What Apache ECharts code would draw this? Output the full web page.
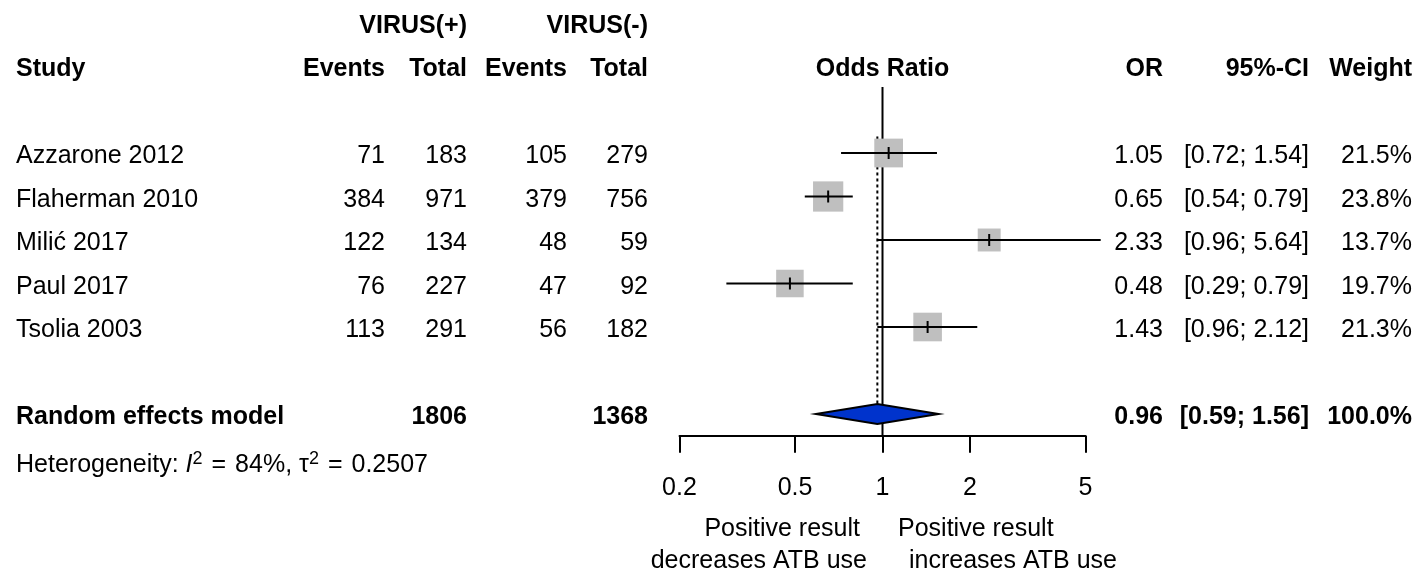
<!DOCTYPE html>
<html><head><meta charset="utf-8">
<script src="https://cdn.jsdelivr.net/npm/echarts@6/dist/echarts.min.js"></script>
<style>html,body{margin:0;padding:0;background:#fff}#c{width:1418px;height:572px}</style>
</head><body><div id="c"></div>
<script>
// ---------- data ----------
const studies   = ['Azzarone 2012', 'Flaherman 2010', 'Milić 2017', 'Paul 2017', 'Tsolia 2003'];
const eventsPos = [71, 384, 122, 76, 113];
const totalPos  = [183, 971, 134, 227, 291];
const eventsNeg = [105, 379, 48, 47, 56];
const totalNeg  = [279, 756, 59, 92, 182];
const orValues  = [1.05, 0.65, 2.33, 0.48, 1.43];
const ciLower   = [0.72, 0.54, 0.96, 0.29, 0.96];
const ciUpper   = [1.54, 0.79, 5.64, 0.79, 2.12];
const weights   = [21.5, 23.8, 13.7, 19.7, 21.3];
const pooledOR    = 0.96;
const pooledLower = 0.59;
const pooledUpper = 1.56;
const pooledWeight = 100.0;
const sumTotalPos = 1806;
const sumTotalNeg = 1368;
const tickValues = [0.2, 0.5, 1, 2, 5];
const tickLabels = ['0.2', '0.5', '1', '2', '5'];
const heterogeneityI2 = '84%';
const heterogeneityTau2 = '0.2507';

// ---------- layout ----------
const FONT = "'Liberation Sans', Arial, Helvetica, sans-serif";
const FS = 25;
const TXT_DY = 3.5;
const LW = 2;
const studyRows = studies.map((s, i) => i + 2);
const headerRow = 0, groupRow = -1, summaryRow = 8, hetRow = 9.1;
const COL = {study: 16, evPos: 385, totPos: 467, evNeg: 567, totNeg: 648, or: 1163, ci: 1309, w: 1412};

const textItems = [];
function addText(o) { textItems.push(o); }
// group header
addText({row: groupRow, x: COL.totPos, text: 'VIRUS(+)', align: 'right', bold: true});
addText({row: groupRow, x: COL.totNeg, text: 'VIRUS(-)', align: 'right', bold: true});
// column header
addText({row: headerRow, x: COL.study, text: 'Study', align: 'left', bold: true});
addText({row: headerRow, x: COL.evPos, text: 'Events', align: 'right', bold: true});
addText({row: headerRow, x: COL.totPos, text: 'Total', align: 'right', bold: true});
addText({row: headerRow, x: COL.evNeg, text: 'Events', align: 'right', bold: true});
addText({row: headerRow, x: COL.totNeg, text: 'Total', align: 'right', bold: true});
addText({row: headerRow, xData: 1, text: 'Odds Ratio', align: 'center', bold: true});
addText({row: headerRow, x: COL.or, text: 'OR', align: 'right', bold: true});
addText({row: headerRow, x: COL.ci, text: '95%-CI', align: 'right', bold: true});
addText({row: headerRow, x: COL.w, text: 'Weight', align: 'right', bold: true});
// studies
studies.forEach((s, i) => {
  const r = studyRows[i];
  addText({row: r, x: COL.study, text: s, align: 'left'});
  addText({row: r, x: COL.evPos, text: String(eventsPos[i]), align: 'right'});
  addText({row: r, x: COL.totPos, text: String(totalPos[i]), align: 'right'});
  addText({row: r, x: COL.evNeg, text: String(eventsNeg[i]), align: 'right'});
  addText({row: r, x: COL.totNeg, text: String(totalNeg[i]), align: 'right'});
  addText({row: r, x: COL.or, text: orValues[i].toFixed(2), align: 'right'});
  addText({row: r, x: COL.ci, text: '[' + ciLower[i].toFixed(2) + '; ' + ciUpper[i].toFixed(2) + ']', align: 'right'});
  addText({row: r, x: COL.w, text: weights[i].toFixed(1) + '%', align: 'right'});
});
// summary
addText({row: summaryRow, x: COL.study, text: 'Random effects model', align: 'left', bold: true});
addText({row: summaryRow, x: COL.totPos, text: String(sumTotalPos), align: 'right', bold: true});
addText({row: summaryRow, x: COL.totNeg, text: String(sumTotalNeg), align: 'right', bold: true});
addText({row: summaryRow, x: COL.or, text: pooledOR.toFixed(2), align: 'right', bold: true});
addText({row: summaryRow, x: COL.ci, text: '[' + pooledLower.toFixed(2) + '; ' + pooledUpper.toFixed(2) + ']', align: 'right', bold: true});
addText({row: summaryRow, x: COL.w, text: pooledWeight.toFixed(1) + '%', align: 'right', bold: true});
// heterogeneity
addText({row: hetRow, x: COL.study, align: 'left',
  text: '{t|Heterogeneity: }{i|I}{s|2}{e|=}{t|' + heterogeneityI2 + ', τ}{s|2}{e|=}{t|' + heterogeneityTau2 + '}',
  rich: {
    t: {font: FS + 'px ' + FONT, lineHeight: 30, fill: '#000'},
    e: {font: FS + 'px ' + FONT, lineHeight: 30, fill: '#000', padding: [0, 9, 0, 9]},
    i: {font: 'italic ' + FS + 'px ' + FONT, lineHeight: 30, fill: '#000'},
    s: {font: '18px ' + FONT, lineHeight: 19, verticalAlign: 'top', fill: '#000'}
  }});
// bottom direction labels
addText({yPx: 529, x: 860, text: 'Positive result', align: 'right'});
addText({yPx: 561, x: 867, text: 'decreases ATB use', align: 'right'});
addText({yPx: 529, x: 898, text: 'Positive result', align: 'left'});
addText({yPx: 561, x: 909, text: 'increases ATB use', align: 'left'});

function tickLabelFor(v) {
  let best = 0, bd = Infinity;
  tickValues.forEach((t, k) => { const d = Math.abs(Math.log(v) - Math.log(t)); if (d < bd) { bd = d; best = k; } });
  return tickLabels[best];
}

const chart = echarts.init(document.getElementById('c'), null, {renderer: 'canvas'});
const BLACK = '#000';
const option = {
  animation: false,
  backgroundColor: '#fff',
  grid: {left: 679.5, width: 406, top: 0.75, height: 435, containLabel: false},
  xAxis: {
    type: 'log', logBase: 10, min: 0.2, max: 5, position: 'bottom',
    axisLine: {show: true, onZero: false, lineStyle: {color: BLACK, width: LW}},
    axisTick: {show: true, length: 17, customValues: tickValues, lineStyle: {color: BLACK, width: LW}},
    axisLabel: {show: true, customValues: tickValues, margin: 40, color: BLACK, fontSize: FS, fontFamily: FONT,
      formatter: v => tickLabelFor(v)},
    splitLine: {show: false}, minorTick: {show: false}
  },
  yAxis: {type: 'value', inverse: true, min: -1.5, max: 8.5, show: false},
  series: [
    { // reference lines
      type: 'custom', silent: true, z: 1,
      data: [[0]],
      renderItem: (params, api) => {
        const a = api.coord([1, 0.48]), b = api.coord([1, 8.5]);
        const c = api.coord([pooledOR, 1.62]), d = api.coord([pooledOR, summaryRow]);
        return {type: 'group', children: [
          {type: 'line', shape: {x1: a[0], y1: a[1], x2: b[0], y2: b[1]}, style: {stroke: BLACK, lineWidth: LW}},
          {type: 'line', shape: {x1: c[0], y1: c[1], x2: d[0], y2: d[1]}, style: {stroke: BLACK, lineWidth: LW, lineDash: [3, 3]}}
        ]};
      }
    },
    { // study squares + CI
      type: 'custom', silent: true, z: 2,
      data: studies.map((s, i) => [i]),
      renderItem: (params, api) => {
        const i = params.dataIndex, r = studyRows[i];
        const p = api.coord([orValues[i], r]);
        const lo = api.coord([ciLower[i], r]), hi = api.coord([ciUpper[i], r]);
        const sz = 6.2 * Math.sqrt(weights[i]);
        return {type: 'group', children: [
          {type: 'rect', shape: {x: p[0] - sz / 2, y: p[1] - sz / 2, width: sz, height: sz}, style: {fill: '#bfbfbf'}},
          {type: 'line', shape: {x1: lo[0], y1: lo[1], x2: hi[0], y2: hi[1]}, style: {stroke: BLACK, lineWidth: LW}},
          {type: 'line', shape: {x1: p[0], y1: p[1] - 6, x2: p[0], y2: p[1] + 6}, style: {stroke: BLACK, lineWidth: LW}}
        ]};
      }
    },
    { // pooled diamond
      type: 'custom', silent: true, z: 3,
      data: [[0]],
      renderItem: (params, api) => {
        const l = api.coord([pooledLower, summaryRow]), m = api.coord([pooledOR, summaryRow]), u = api.coord([pooledUpper, summaryRow]);
        return {type: 'polygon', shape: {points: [[l[0], l[1]], [m[0], m[1] - 10], [u[0], u[1]], [m[0], m[1] + 10]]},
          style: {fill: '#0033cc', stroke: BLACK, lineWidth: LW}};
      }
    },
    { // table text
      type: 'custom', silent: true, z: 4,
      data: textItems.map((t, i) => [i]),
      renderItem: (params, api) => {
        const t = textItems[params.dataIndex];
        const y = t.yPx != null ? t.yPx : api.coord([1, t.row])[1] + TXT_DY;
        const x = t.xData != null ? api.coord([t.xData, 0])[0] : t.x;
        const style = {text: t.text, fill: BLACK,
          font: (t.bold ? 'bold ' : '') + FS + 'px ' + FONT,
          align: t.align, textAlign: t.align, verticalAlign: 'middle', textVerticalAlign: 'middle'};
        if (t.rich) style.rich = t.rich;
        return {type: 'text', x: x, y: y, style: style};
      }
    }
  ]
};
chart.setOption(option);
</script>
</body></html>
